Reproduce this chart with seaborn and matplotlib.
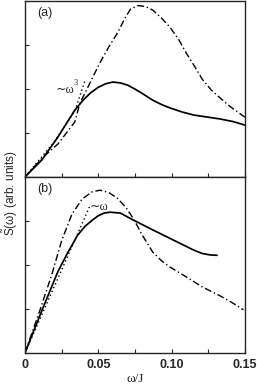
import matplotlib
matplotlib.use("Agg")
import matplotlib.pyplot as plt
from matplotlib.ticker import MultipleLocator
import seaborn as sns
import numpy as np

# panel (a)
a_solid_w = [0, 0.0116, 0.0225, 0.034, 0.04, 0.045, 0.05, 0.055, 0.06, 0.065, 0.07, 0.075,
             0.08, 0.087, 0.093, 0.099, 0.107, 0.115, 0.125, 0.133, 0.142, 0.15]
a_solid_s = [0, 0.39, 0.91, 1.52, 1.76, 1.92, 2.04, 2.12, 2.16, 2.14, 2.09, 2.0,
             1.9, 1.75, 1.65, 1.57, 1.48, 1.41, 1.36, 1.32, 1.26, 1.18]
a_dd_w = [0, 0.0123, 0.0225, 0.034, 0.0375, 0.042, 0.047, 0.051, 0.057, 0.063, 0.068, 0.072,
          0.077, 0.082, 0.087, 0.093, 0.099, 0.105, 0.110, 0.116, 0.121, 0.127, 0.133, 0.140, 0.15]
a_dd_s = [0, 0.45, 0.75, 1.25, 1.68, 1.98, 2.32, 2.59, 2.95, 3.27, 3.6, 3.82,
          3.9, 3.88, 3.8, 3.62, 3.4, 3.12, 2.82, 2.5, 2.22, 1.98, 1.8, 1.6, 1.36]
a_fit_w = [0, 0.02, 0.034, 0.041]
a_fit_s = [0, 0.8, 1.5, 2.2]

# panel (b)
b_solid_w = [0, 0.011, 0.0225, 0.029, 0.036, 0.041, 0.046, 0.05, 0.054, 0.058, 0.065, 0.074,
             0.087, 0.101, 0.115, 0.121, 0.126, 0.131]
b_solid_s = [0, 0.92, 1.85, 2.27, 2.68, 2.88, 3.02, 3.12, 3.18, 3.2, 3.18, 3.02,
             2.8, 2.57, 2.34, 2.26, 2.23, 2.22]
b_dd_w = [0, 0.01, 0.0185, 0.025, 0.032, 0.039, 0.0457, 0.051, 0.057, 0.063, 0.069, 0.074,
          0.080, 0.087, 0.093, 0.099, 0.110, 0.121, 0.133, 0.141, 0.149]
b_dd_s = [0, 0.95, 1.8, 2.55, 3.15, 3.5, 3.66, 3.7, 3.65, 3.52, 3.3, 3.05,
          2.68, 2.3, 2.1, 1.95, 1.73, 1.5, 1.3, 1.15, 0.98]
b_fit_w = [0, 0.022, 0.044]
b_fit_s = [0, 1.66, 3.32]

xticks = [0, 0.05, 0.10, 0.15]
xticklabels = ["0", "0.05", "0.10", "0.15"]

sns.set_style("ticks")
plt.rcParams['font.family'] = ['Liberation Sans', 'DejaVu Sans']
plt.rcParams['mathtext.fontset'] = 'custom'
plt.rcParams['mathtext.rm'] = 'Liberation Sans'
plt.rcParams['mathtext.it'] = 'Liberation Sans:italic'

fig = plt.figure(figsize=(2.57, 3.86), dpi=100)
ax_a = fig.add_axes([0.097, 0.5415, 0.856, 0.4555])
ax_b = fig.add_axes([0.097, 0.0855, 0.856, 0.456])


def draw(ax, sw, ss, dw, ds, fw, fs):
    sns.lineplot(x=sw, y=ss, ax=ax, color='k', lw=1.25, sort=False, estimator=None)
    sns.lineplot(x=dw, y=ds, ax=ax, color='k', lw=1.0, sort=False, estimator=None)
    ax.lines[-1].set_dashes((5, 2, 1, 2))
    sns.lineplot(x=fw, y=fs, ax=ax, color='k', lw=1.0, sort=False, estimator=None)
    ax.lines[-1].set_dashes((1, 2))
    ax.set_xlim(0, 0.15)
    ax.set_ylim(0, 4)
    ax.xaxis.set_major_locator(MultipleLocator(0.05))
    ax.xaxis.set_minor_locator(MultipleLocator(0.025))
    ax.yaxis.set_major_locator(MultipleLocator(1))
    ax.tick_params(which='both', direction='in', length=3, width=0.8)
    ax.set_yticklabels([])
    for sp in ax.spines.values():
        sp.set_linewidth(1.0)
    ax.set_xlabel("")
    ax.set_ylabel("")


draw(ax_a, a_solid_w, a_solid_s, a_dd_w, a_dd_s, a_fit_w, a_fit_s)
draw(ax_b, b_solid_w, b_solid_s, b_dd_w, b_dd_s, b_fit_w, b_fit_s)

ax_a.set_xticklabels([])
ax_b.set_xticks(xticks)
ax_b.set_xticklabels(xticklabels, fontweight='bold', fontsize=9)
ax_b.tick_params(axis='x', pad=4)
ax_b.set_xlabel("ω/J", fontsize=9.5, labelpad=2, family='Liberation Serif')

serif = ['Liberation Serif', 'DejaVu Serif']
ax_a.text(0.055, 0.965, "(a)", transform=ax_a.transAxes, fontsize=9, va='top')
ax_b.text(0.055, 0.965, "(b)", transform=ax_b.transAxes, fontsize=9, va='top')
ax_a.text(0.021, 1.9, "∼ω", fontsize=9, family=serif)
ax_a.text(0.0335, 2.1, "3", fontsize=6, family=serif)
ax_b.text(0.044, 3.25, "∼ω", fontsize=9, family=serif)

fig.text(0.04, 0.5, r"$\tilde{\mathrm{S}}$(ω) (arb. units)", rotation=90, fontsize=8.5,
         ha='center', va='center')

fig.savefig("out.png", dpi=100)
